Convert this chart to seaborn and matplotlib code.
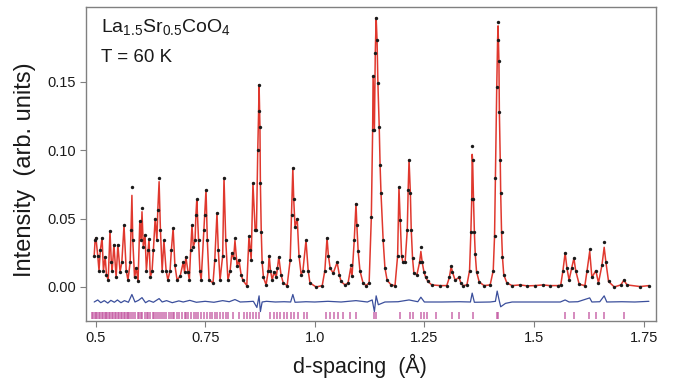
import numpy as np
import pandas as pd
import matplotlib
matplotlib.use("Agg")
import matplotlib.pyplot as plt
import seaborn as sns

d_obs = [0.497, 0.499, 0.501, 0.505, 0.508, 0.511, 0.515, 0.518, 0.522, 0.525, 0.529,
         0.533, 0.536, 0.538, 0.542, 0.547, 0.551, 0.556, 0.560, 0.565, 0.570, 0.574,
         0.579, 0.581, 0.583, 0.585, 0.589, 0.593, 0.597, 0.601, 0.604, 0.606, 0.609,
         0.613, 0.616, 0.620, 0.622, 0.625, 0.629, 0.632, 0.636, 0.640, 0.642, 0.645,
         0.648, 0.652, 0.656, 0.661, 0.665, 0.670, 0.673, 0.677, 0.681, 0.686, 0.693,
         0.700, 0.703, 0.706, 0.711, 0.714, 0.717, 0.720, 0.723, 0.727, 0.729, 0.731,
         0.735, 0.738, 0.741, 0.747, 0.749, 0.752, 0.755, 0.759, 0.768, 0.772, 0.777,
         0.780, 0.784, 0.790, 0.793, 0.797, 0.802, 0.807, 0.811, 0.815, 0.818, 0.823,
         0.827, 0.832, 0.836, 0.845, 0.850, 0.853, 0.855, 0.859, 0.864, 0.867, 0.870,
         0.872, 0.873, 0.875, 0.876, 0.878, 0.880, 0.883, 0.889, 0.894, 0.896, 0.899,
         0.903, 0.907, 0.912, 0.915, 0.918, 0.923, 0.928, 0.937, 0.944, 0.947, 0.950,
         0.952, 0.955, 0.960, 0.964, 0.969, 0.973, 0.980, 0.985, 0.989, 1.003, 1.017,
         1.023, 1.028, 1.031, 1.035, 1.042, 1.051, 1.056, 1.060, 1.069, 1.076, 1.082,
         1.085, 1.090, 1.094, 1.096, 1.099, 1.103, 1.110, 1.117, 1.124, 1.129, 1.132,
         1.133, 1.136, 1.138, 1.140, 1.142, 1.144, 1.147, 1.149, 1.151, 1.156, 1.160,
         1.165, 1.174, 1.183, 1.189, 1.192, 1.195, 1.198, 1.201, 1.206, 1.211, 1.213,
         1.215, 1.218, 1.220, 1.223, 1.226, 1.233, 1.239, 1.242, 1.245, 1.249, 1.253,
         1.258, 1.267, 1.286, 1.301, 1.307, 1.311, 1.314, 1.320, 1.329, 1.333, 1.338,
         1.347, 1.353, 1.356, 1.358, 1.359, 1.360, 1.362, 1.364, 1.366, 1.369, 1.375,
         1.386, 1.400, 1.407, 1.410, 1.412, 1.415, 1.417, 1.418, 1.420, 1.421, 1.423,
         1.424, 1.426, 1.428, 1.431, 1.438, 1.450, 1.468, 1.485, 1.502, 1.520, 1.536,
         1.555, 1.561, 1.566, 1.571, 1.575, 1.580, 1.586, 1.591, 1.595, 1.603, 1.616,
         1.621, 1.627, 1.632, 1.641, 1.647, 1.655, 1.660, 1.664, 1.670, 1.683, 1.698,
         1.705, 1.712, 1.742, 1.762]
i_obs = [0.023, 0.034, 0.036, 0.023, 0.012, 0.027, 0.036, 0.012, 0.022, 0.009, 0.005,
         0.041, 0.018, 0.012, 0.031, 0.007, 0.031, 0.011, 0.018, 0.045, 0.012, 0.005,
         0.018, 0.042, 0.073, 0.034, 0.007, 0.014, 0.004, 0.048, 0.034, 0.058, 0.029,
         0.038, 0.012, 0.027, 0.035, 0.007, 0.012, 0.027, 0.050, 0.034, 0.056, 0.080,
         0.042, 0.012, 0.034, 0.012, 0.005, 0.012, 0.027, 0.043, 0.016, 0.005, 0.008,
         0.018, 0.011, 0.022, 0.011, 0.005, 0.027, 0.045, 0.029, 0.034, 0.053, 0.064,
         0.034, 0.012, 0.005, 0.042, 0.053, 0.071, 0.034, 0.005, 0.003, 0.020, 0.054,
         0.027, 0.005, 0.023, 0.080, 0.034, 0.005, 0.012, 0.025, 0.021, 0.036, 0.015,
         0.020, 0.009, 0.005, 0.001, 0.037, 0.027, 0.020, 0.076, 0.042, 0.042, 0.100,
         0.129, 0.148, 0.117, 0.076, 0.040, 0.018, 0.007, 0.0015, 0.012, 0.023, 0.012,
         0.005, 0.011, 0.007, 0.014, 0.022, 0.009, 0.003, 0.001, 0.020, 0.053, 0.087,
         0.064, 0.044, 0.050, 0.023, 0.009, 0.012, 0.034, 0.012, 0.003, 0.000, 0.001,
         0.012, 0.036, 0.023, 0.014, 0.010, 0.018, 0.009, 0.004, 0.0015, 0.003, 0.016,
         0.008, 0.034, 0.061, 0.045, 0.026, 0.012, 0.003, 0.001, 0.003, 0.051, 0.115,
         0.154, 0.115, 0.171, 0.197, 0.181, 0.149, 0.117, 0.089, 0.069, 0.034, 0.014,
         0.005, 0.0015, 0.001, 0.023, 0.073, 0.049, 0.023, 0.018, 0.018, 0.042, 0.071,
         0.093, 0.069, 0.042, 0.021, 0.010, 0.009, 0.018, 0.029, 0.018, 0.011, 0.007,
         0.004, 0.0015, 0.001, 0.001, 0.007, 0.015, 0.011, 0.005, 0.007, 0.003, 0.001,
         0.0015, 0.012, 0.040, 0.064, 0.103, 0.093, 0.064, 0.040, 0.024, 0.011, 0.0037,
         0.001, 0.0015, 0.012, 0.037, 0.080, 0.146, 0.181, 0.194, 0.165, 0.128, 0.093,
         0.069, 0.040, 0.022, 0.009, 0.003, 0.001, 0.0015, 0.0008, 0.001, 0.0015, 0.001,
         0.001, 0.0015, 0.012, 0.025, 0.014, 0.005, 0.014, 0.021, 0.012, 0.002, 0.001,
         0.012, 0.028, 0.007, 0.012, 0.003, 0.016, 0.033, 0.018, 0.004, 0.000, 0.0015,
         0.005, 0.0015, 0.0003, 0.001]

# calculated profile where it departs from the observed points (peak tops)
calc_peak_d = [0.583, 0.606, 0.645, 0.818, 1.082, 1.242, 1.359, 1.418, 1.627, 1.660]
calc_peak_i = [0.067, 0.055, 0.077, 0.034, 0.014, 0.026, 0.097, 0.191, 0.026, 0.029]

# difference curve (obs - calc, offset)
d_diff = [0.497, 0.505, 0.512, 0.520, 0.528, 0.535, 0.543, 0.550, 0.558, 0.566,
          0.575, 0.583, 0.590, 0.598, 0.606, 0.614, 0.622, 0.632, 0.645, 0.652,
          0.662, 0.675, 0.690, 0.700, 0.715, 0.730, 0.750, 0.770, 0.790, 0.805,
          0.818, 0.830, 0.845, 0.860, 0.868, 0.873, 0.876, 0.880, 0.890, 0.910,
          0.930, 0.945, 0.950, 0.955, 0.980, 1.000, 1.030, 1.060, 1.094, 1.120,
          1.131, 1.136, 1.140, 1.145, 1.160, 1.190, 1.215, 1.235, 1.242, 1.250,
          1.290, 1.330, 1.355, 1.359, 1.364, 1.400, 1.412, 1.416, 1.420, 1.424,
          1.435, 1.450, 1.500, 1.560, 1.571, 1.580, 1.600, 1.627, 1.632, 1.650,
          1.660, 1.666, 1.700, 1.730, 1.762]
i_diff = [-0.0110, -0.0095, -0.0115, -0.0100, -0.0118, -0.0098, -0.0112, -0.0095, -0.0115, -0.0100,
          -0.0112, -0.0055, -0.0110, -0.0098, -0.0078, -0.0115, -0.0100, -0.0112, -0.0085, -0.0110,
          -0.0100, -0.0115, -0.0102, -0.0110, -0.0098, -0.0112, -0.0105, -0.0112, -0.0100, -0.0108,
          -0.0092, -0.0110, -0.0108, -0.0105, -0.0150, -0.0065, -0.0180, -0.0110, -0.0105, -0.0110,
          -0.0108, -0.0110, -0.0055, -0.0112, -0.0108, -0.0110, -0.0105, -0.0110, -0.0100, -0.0110,
          -0.0095, -0.0180, -0.0065, -0.0130, -0.0110, -0.0108, -0.0095, -0.0108, -0.0075, -0.0110,
          -0.0110, -0.0108, -0.0110, -0.0045, -0.0112, -0.0110, -0.0105, -0.0030, -0.0090, -0.0145,
          -0.0120, -0.0110, -0.0110, -0.0110, -0.0095, -0.0110, -0.0108, -0.0080, -0.0110, -0.0108,
          -0.0065, -0.0110, -0.0108, -0.0110, -0.0105]

# reflection markers
refl_d = [0.492, 0.495, 0.498, 0.501, 0.504, 0.508, 0.511, 0.514, 0.517, 0.521, 0.524,
          0.527, 0.531, 0.534, 0.537, 0.540, 0.544, 0.547, 0.551, 0.554, 0.557, 0.561,
          0.564, 0.567, 0.571, 0.574, 0.577, 0.582, 0.586, 0.590, 0.596, 0.599, 0.603,
          0.607, 0.612, 0.617, 0.620, 0.625, 0.630, 0.634, 0.638, 0.643, 0.648, 0.652,
          0.656, 0.661, 0.667, 0.672, 0.676, 0.680, 0.685, 0.690, 0.698, 0.703, 0.707,
          0.712, 0.718, 0.724, 0.729, 0.734, 0.741, 0.748, 0.755, 0.760, 0.766, 0.772,
          0.778, 0.784, 0.791, 0.797, 0.802, 0.814, 0.827, 0.838, 0.846, 0.852, 0.860,
          0.867, 0.873, 0.898, 0.906, 0.914, 0.921, 0.929, 0.937, 0.945, 0.953, 0.962,
          0.976, 0.983, 1.026, 1.035, 1.044, 1.053, 1.065, 1.080, 1.094, 1.134, 1.140,
          1.194, 1.217, 1.225, 1.242, 1.248, 1.257, 1.277, 1.312, 1.330, 1.360, 1.415,
          1.419, 1.571, 1.591, 1.626, 1.641, 1.660, 1.705]

x_ticks = [0.5, 0.75, 1.0, 1.25, 1.5, 1.75]
x_tick_labels = ["0.5", "0.75", "1.0", "1.25", "1.5", "1.75"]
y_ticks = [0.00, 0.05, 0.10, 0.15]
y_tick_labels = ["0.00", "0.05", "0.10", "0.15"]

calc_map = dict(zip(calc_peak_d, calc_peak_i))
i_calc = [calc_map.get(d, v) for d, v in zip(d_obs, i_obs)]

df = pd.DataFrame({"d": d_obs, "obs": i_obs, "calc": i_calc})
dfd = pd.DataFrame({"d": d_diff, "diff": i_diff})

sns.set_theme(style="white")
plt.rcParams["font.family"] = ["Liberation Sans", "DejaVu Sans"]

fig = plt.figure(figsize=(6.73, 3.86), dpi=100)
ax = fig.add_axes([86 / 673, 1 - 321 / 386, (656 - 86) / 673, (321 - 7) / 386])

sns.lineplot(data=df, x="d", y="calc", ax=ax, color="#e0382e", lw=1.1,
             sort=False, estimator=None, zorder=2)
sns.scatterplot(data=df, x="d", y="obs", ax=ax, color="#1a1a1a", s=6,
                linewidth=0, zorder=3)
sns.lineplot(data=dfd, x="d", y="diff", ax=ax, color="#3b4f9c", lw=0.9,
             sort=False, estimator=None, zorder=2)
ax.vlines(refl_d, -0.0181, -0.0231, color="#c2549f", lw=1.2, alpha=0.8)

ax.set_xlim(0.4783, 1.7782)
ax.set_ylim(-0.0249, 0.2048)
ax.set_xticks(x_ticks)
ax.set_xticklabels(x_tick_labels)
ax.set_yticks(y_ticks)
ax.set_yticklabels(y_tick_labels)
ax.tick_params(axis="both", direction="out", length=4, width=0.8, color="#808080",
               labelsize=10.5, labelcolor="#1a1a1a", pad=3, bottom=True, left=True)
for s in ax.spines.values():
    s.set_color("#808080")
    s.set_linewidth(1.0)

ax.set_xlabel("d-spacing  (Å)", fontsize=15.5, color="#1a1a1a")
ax.xaxis.set_label_coords(0.481, -0.105)
ax.set_ylabel("Intensity  (arb. units)", fontsize=17, color="#1a1a1a")
ax.yaxis.set_label_coords(-0.087, 0.481)

ax.text(0.026, 0.935, r"La$_\mathregular{1.5}$Sr$_\mathregular{0.5}$CoO$_\mathregular{4}$",
        transform=ax.transAxes, fontsize=14, color="#1a1a1a", va="center", ha="left")
ax.text(0.026, 0.84, "T = 60 K", transform=ax.transAxes, fontsize=13.5,
        color="#1a1a1a", va="center", ha="left")

fig.savefig("out.png", dpi=100)
